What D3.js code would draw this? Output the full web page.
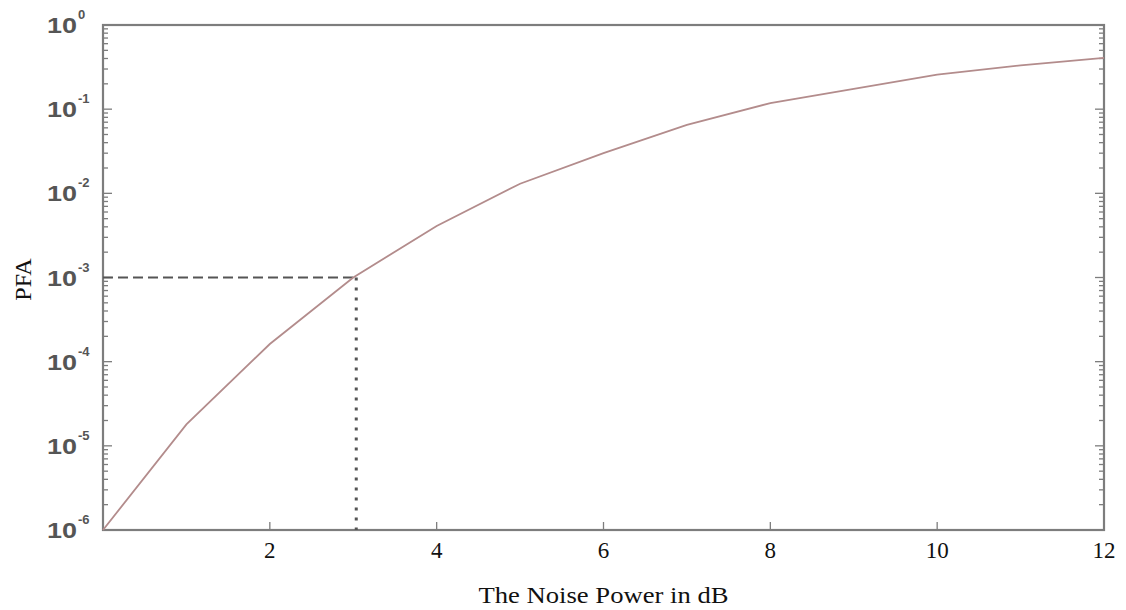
<!DOCTYPE html>
<html>
<head>
<meta charset="utf-8">
<script src="https://cdn.jsdelivr.net/npm/d3@7"></script>
<style>
  body { margin: 0; background: #fff; }
  svg { display: block; }
</style>
</head>
<body>
<div id="chart"></div>
<script>
// noise power (dB) and false alarm probability
const noiseDb = [0, 1, 2, 3, 4, 5, 6, 7, 8, 9, 10, 11, 12];
const pfa = [1e-6, 1.8e-5, 1.62e-4, 1.0e-3, 4.1e-3, 1.3e-2, 3.0e-2, 6.5e-2, 0.118, 0.174, 0.257, 0.331, 0.407];
const xTicks = [2, 4, 6, 8, 10, 12];
const yExponents = [0, -1, -2, -3, -4, -5, -6];
// the marked operating point
const markX = 3;
const markY = 1e-3;

const width = 1126, height = 610;
const margin = {top: 25, right: 22, bottom: 80, left: 103};

const svg = d3.select("#chart")
  .append("svg")
  .attr("width", width)
  .attr("height", height);

const x = d3.scaleLinear()
  .domain([0, 12])
  .range([margin.left, width - margin.right]);

const y = d3.scaleLog()
  .domain([1e-6, 1])
  .range([height - margin.bottom, margin.top]);

const axisColor = "#7d7d7d";

// minor log ticks (2..9 in every decade)
let minor = [];
yExponents.slice(1).forEach((e) => {
  for (let k = 2; k <= 9; k++) minor.push(k * Math.pow(10, e));
});

const ticks = svg.append("g").attr("stroke", axisColor).attr("stroke-width", 1.3);

// left and right y ticks, pointing inwards
[x(0), x(12)].forEach((x0, i) => {
  const dir = i === 0 ? 1 : -1;
  ticks.selectAll(null)
    .data(minor)
    .enter()
    .append("line")
    .attr("x1", x0).attr("x2", x0 + dir * 5)
    .attr("y1", (d) => y(d)).attr("y2", (d) => y(d));
  ticks.selectAll(null)
    .data(yExponents)
    .enter()
    .append("line")
    .attr("x1", x0).attr("x2", x0 + dir * 9)
    .attr("y1", (d) => y(Math.pow(10, d))).attr("y2", (d) => y(Math.pow(10, d)));
});

// x ticks at the bottom, pointing up
ticks.selectAll(null)
  .data(xTicks)
  .enter()
  .append("line")
  .attr("x1", (d) => x(d)).attr("x2", (d) => x(d))
  .attr("y1", y(1e-6)).attr("y2", y(1e-6) - 8);

// box
svg.append("rect")
  .attr("x", x(0)).attr("y", y(1))
  .attr("width", x(12) - x(0))
  .attr("height", y(1e-6) - y(1))
  .attr("fill", "none")
  .attr("stroke", axisColor)
  .attr("stroke-width", 2.2);

// y tick labels: 10^e
const yLab = svg.append("g")
  .attr("font-family", "Liberation Sans, Arial, sans-serif")
  .attr("font-weight", "bold")
  .attr("fill", "#555");

yExponents.forEach((e) => {
  yLab.append("text")
    .attr("x", 47)
    .attr("y", y(Math.pow(10, e)) + 8)
    .attr("font-size", 22)
    .attr("textLength", 30)
    .attr("lengthAdjust", "spacingAndGlyphs")
    .text("10");
  yLab.append("text")
    .attr("x", 78)
    .attr("y", y(Math.pow(10, e)) - 6)
    .attr("font-size", 13)
    .text(e === 0 ? "0" : "-" + Math.abs(e));
});

// x tick labels
svg.append("g")
  .attr("font-family", "Liberation Serif, Times New Roman, serif")
  .attr("font-size", 23)
  .attr("fill", "#111")
  .selectAll("text")
  .data(xTicks)
  .enter()
  .append("text")
  .attr("x", (d) => x(d))
  .attr("y", y(1e-6) + 28)
  .attr("text-anchor", "middle")
  .text((d) => d);

// dashed guide lines to the 1e-3 point
svg.append("line")
  .attr("x1", x(0)).attr("x2", x(markX))
  .attr("y1", y(markY)).attr("y2", y(markY))
  .attr("stroke", "#555")
  .attr("stroke-width", 2)
  .attr("stroke-dasharray", "10,5");

svg.append("line")
  .attr("x1", x(markX) + 3).attr("x2", x(markX) + 3)
  .attr("y1", y(markY)).attr("y2", y(1e-6))
  .attr("stroke", "#555")
  .attr("stroke-width", 3)
  .attr("stroke-dasharray", "3,7");

// the curve
const line = d3.line()
  .x((d, i) => x(noiseDb[i]))
  .y((d) => y(d));

svg.append("path")
  .datum(pfa)
  .attr("d", line)
  .attr("fill", "none")
  .attr("stroke", "#b38c8c")
  .attr("stroke-width", 1.8);

// axis titles
svg.append("text")
  .attr("x", (x(0) + x(12)) / 2)
  .attr("y", 603)
  .attr("text-anchor", "middle")
  .attr("font-family", "Liberation Serif, Times New Roman, serif")
  .attr("font-size", 24)
  .attr("textLength", 250)
  .attr("lengthAdjust", "spacingAndGlyphs")
  .attr("fill", "#111")
  .text("The Noise Power in dB");

svg.append("text")
  .attr("transform", `translate(31, ${(y(1) + y(1e-6)) / 2 + 2}) rotate(-90)`)
  .attr("text-anchor", "middle")
  .attr("font-family", "Liberation Serif, Times New Roman, serif")
  .attr("font-size", 24)
  .attr("fill", "#111")
  .text("PFA");
</script>
</body>
</html>
